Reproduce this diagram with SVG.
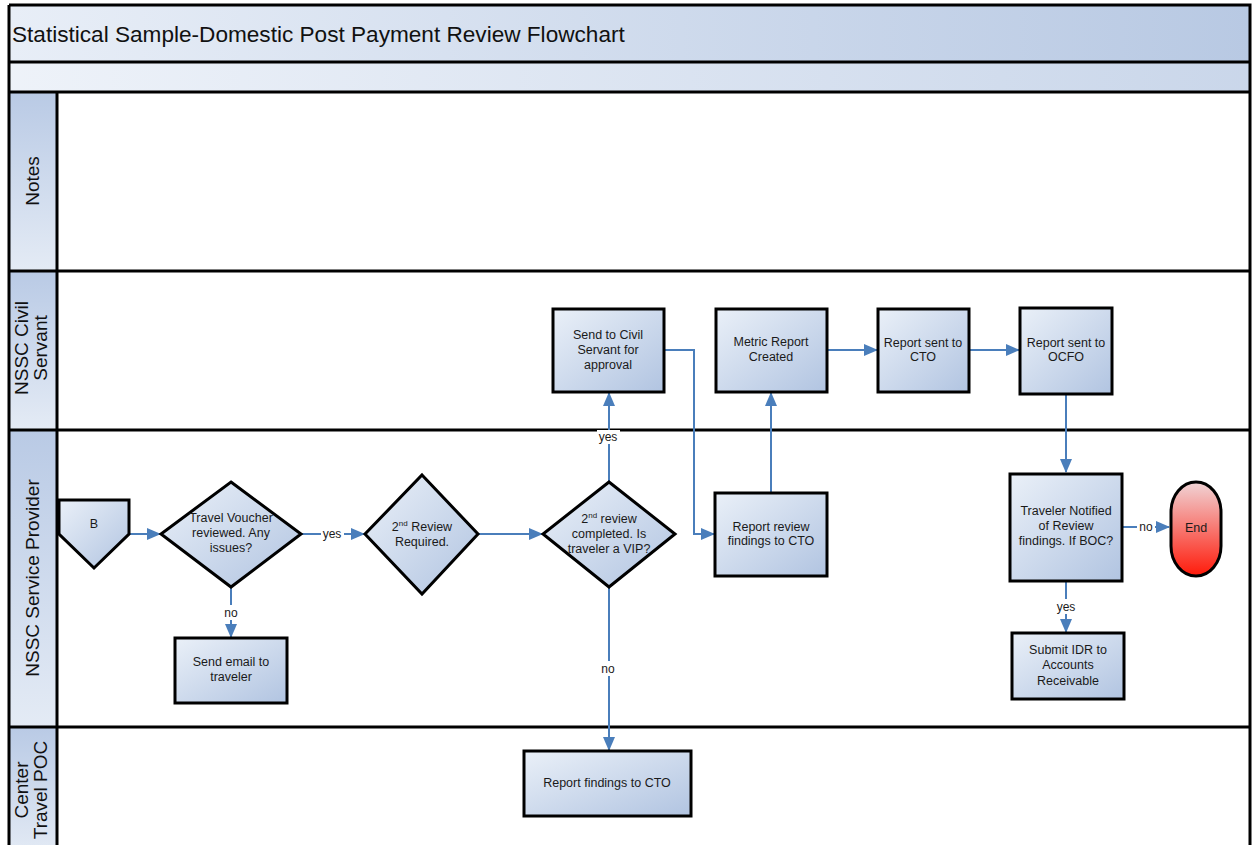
<svg xmlns="http://www.w3.org/2000/svg" width="1252" height="845" viewBox="0 0 1252 845">
<defs>
<linearGradient id="gTitle" x1="0" y1="0" x2="1" y2="0"><stop offset="0" stop-color="#e8eef7"/><stop offset="1" stop-color="#b8c9e3"/></linearGradient>
<linearGradient id="gLane" x1="0" y1="0" x2="0" y2="1"><stop offset="0" stop-color="#b9cae5"/><stop offset="1" stop-color="#e4ebf5"/></linearGradient>
<linearGradient id="gNode" x1="0" y1="0" x2="1" y2="1"><stop offset="0" stop-color="#eaf0f8"/><stop offset="1" stop-color="#b1c4e1"/></linearGradient>
<linearGradient id="gEnd" x1="0" y1="0" x2="0" y2="1"><stop offset="0" stop-color="#f0d4d6"/><stop offset="1" stop-color="#ff1a0a"/></linearGradient>
<marker id="arr" markerUnits="userSpaceOnUse" markerWidth="14" markerHeight="12" refX="13" refY="6" orient="auto"><path d="M0,0 L14,6 L0,12 Z" fill="#4a7ebb"/></marker>
<style>
.node{fill:url(#gNode);stroke:#000;stroke-width:3}
.t{font-family:"Liberation Sans",Arial,sans-serif;font-size:12.5px;fill:#1a1a1a;text-anchor:middle}
.lbl{font-family:"Liberation Sans",Arial,sans-serif;font-size:12px;fill:#1a1a1a;text-anchor:middle}
.lane{font-family:"Liberation Sans",Arial,sans-serif;font-size:19px;fill:#111;text-anchor:middle}
.c{fill:none;stroke:#4a7ebb;stroke-width:2}
.ln{stroke:#000;stroke-width:3;fill:none}
.sup{font-size:8px}
</style>
</defs>
<rect width="1252" height="845" fill="#fff"/>
<g id="frame">
<rect x="9" y="5" width="1241" height="57" fill="url(#gTitle)"/>
<rect x="9" y="62" width="1241" height="30" fill="url(#gTitle)" opacity="0.75"/>
<rect x="9" y="92" width="48" height="179" fill="url(#gLane)"/>
<rect x="9" y="271" width="48" height="159" fill="url(#gLane)"/>
<rect x="9" y="430" width="48" height="297" fill="url(#gLane)"/>
<rect x="9" y="727" width="48" height="130" fill="url(#gLane)"/>
<path class="ln" d="M9,5 H1250 V850 M9,5 V850 M9,62 H1250 M9,92 H1250 M9,271 H1250 M9,430 H1250 M9,727 H1250 M57,92 V850"/>
<text x="12" y="42" font-family="Liberation Sans, Arial, sans-serif" font-size="22.6" fill="#111">Statistical Sample-Domestic Post Payment Review Flowchart</text>
<text class="lane" transform="rotate(-90 33 181)" x="33" y="187">Notes</text>
<text class="lane" transform="rotate(-90 33 348)" x="33" y="348"><tspan x="33" y="343">NSSC Civil</tspan><tspan x="33" y="362">Servant</tspan></text>
<text class="lane" transform="rotate(-90 33 578)" x="33" y="584">NSSC Service Provider</text>
<text class="lane" transform="rotate(-90 33 790)" x="33" y="790"><tspan x="33" y="785">Center</tspan><tspan x="33" y="804">Travel POC</tspan></text>
</g>
<g id="connectors">
<path class="c" d="M129,534 H160" marker-end="url(#arr)"/>
<path class="c" d="M301,534 H364" marker-end="url(#arr)"/>
<path class="c" d="M231,587 V637" marker-end="url(#arr)"/>
<path class="c" d="M478,534 H542" marker-end="url(#arr)"/>
<path class="c" d="M609,482 V393" marker-end="url(#arr)"/>
<path class="c" d="M609,587 V750" marker-end="url(#arr)"/>
<path class="c" d="M664,350 H694 V534 H714" marker-end="url(#arr)"/>
<path class="c" d="M771,493 V393" marker-end="url(#arr)"/>
<path class="c" d="M827,350 H877" marker-end="url(#arr)"/>
<path class="c" d="M969,350 H1019" marker-end="url(#arr)"/>
<path class="c" d="M1066,394 V472" marker-end="url(#arr)"/>
<path class="c" d="M1122,527 H1169" marker-end="url(#arr)"/>
<path class="c" d="M1066,581 V632" marker-end="url(#arr)"/>
<rect x="222" y="605" width="18" height="15" fill="#fff"/><text class="lbl" x="231" y="617">no</text>
<rect x="321" y="527" width="23" height="14" fill="#fff"/><text class="lbl" x="332" y="538">yes</text>
<rect x="597" y="430" width="23" height="14" fill="#fff"/><text class="lbl" x="608" y="441">yes</text>
<rect x="599" y="661" width="18" height="15" fill="#fff"/><text class="lbl" x="608" y="673">no</text>
<rect x="1137" y="520" width="18" height="14" fill="#fff"/><text class="lbl" x="1146" y="531">no</text>
<rect x="1055" y="599" width="23" height="15" fill="#fff"/><text class="lbl" x="1066" y="611">yes</text>
</g>
<g id="n-b"><path class="node" d="M59,500 H129 V534 L94,568 L59,534 Z"/><text class="t" x="94" y="528">B</text></g>
<g id="n-d1"><path class="node" d="M231,482 L301,534 L231,587 L161,534 Z"/><text class="t"><tspan x="231" y="522">Travel Voucher</tspan><tspan x="231" y="537">reviewed. Any</tspan><tspan x="231" y="552">issues?</tspan></text></g>
<g id="n-d2"><path class="node" d="M422,475 L478,534 L422,594 L365,534 Z"/><text class="t"><tspan x="422" y="531">2<tspan class="sup" dy="-5">nd</tspan><tspan dy="5"> Review</tspan></tspan><tspan x="422" y="546">Required.</tspan></text></g>
<g id="n-email"><rect class="node" x="175" y="638" width="112" height="65"/><text class="t"><tspan x="231" y="666">Send email to</tspan><tspan x="231" y="681">traveler</tspan></text></g>
<g id="n-d3"><path class="node" d="M609,482 L675,534 L609,587 L543,534 Z"/><text class="t"><tspan x="609" y="523">2<tspan class="sup" dy="-5">nd</tspan><tspan dy="5"> review</tspan></tspan><tspan x="609" y="538">completed. Is</tspan><tspan x="609" y="553">traveler a VIP?</tspan></text></g>
<g id="n-civil"><rect class="node" x="553" y="309" width="111" height="83"/><text class="t"><tspan x="608" y="339">Send to Civil</tspan><tspan x="608" y="354">Servant for</tspan><tspan x="608" y="369">approval</tspan></text></g>
<g id="n-metric"><rect class="node" x="716" y="309" width="111" height="83"/><text class="t"><tspan x="771" y="346">Metric Report</tspan><tspan x="771" y="361">Created</tspan></text></g>
<g id="n-review"><rect class="node" x="715" y="493" width="112" height="83"/><text class="t"><tspan x="771" y="531">Report review</tspan><tspan x="771" y="545">findings to CTO</tspan></text></g>
<g id="n-cto"><rect class="node" x="878" y="309" width="91" height="83"/><text class="t"><tspan x="923" y="347">Report sent to</tspan><tspan x="923" y="361">CTO</tspan></text></g>
<g id="n-ocfo"><rect class="node" x="1020" y="308" width="92" height="86"/><text class="t"><tspan x="1066" y="347">Report sent to</tspan><tspan x="1066" y="361">OCFO</tspan></text></g>
<g id="n-notified"><rect class="node" x="1010" y="474" width="112" height="107"/><text class="t"><tspan x="1066" y="515">Traveler Notified</tspan><tspan x="1066" y="530">of Review</tspan><tspan x="1066" y="545">findings. If BOC?</tspan></text></g>
<g id="n-end"><rect x="1171" y="482" width="50" height="94" rx="25" ry="30" fill="url(#gEnd)" stroke="#000" stroke-width="3"/><text class="t" x="1196" y="532">End</text></g>
<g id="n-idr"><rect class="node" x="1012" y="633" width="112" height="66"/><text class="t"><tspan x="1068" y="654">Submit IDR to</tspan><tspan x="1068" y="669">Accounts</tspan><tspan x="1068" y="685">Receivable</tspan></text></g>
<g id="n-poc"><rect class="node" x="524" y="751" width="167" height="65"/><text class="t" x="607" y="787">Report findings to CTO</text></g>
</svg>
